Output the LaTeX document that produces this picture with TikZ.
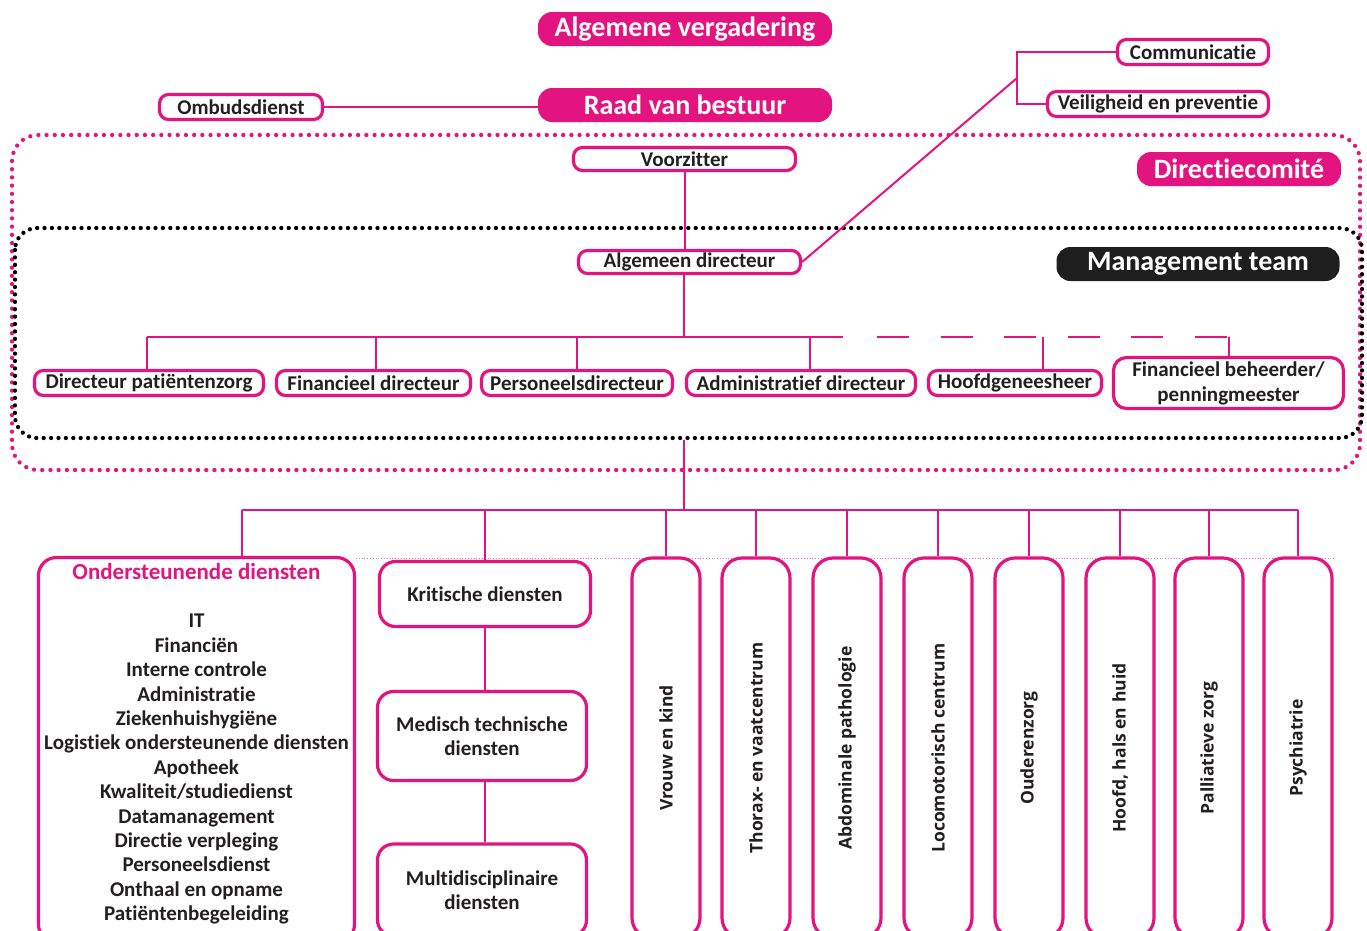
\documentclass[tikz,border=0pt]{standalone}
\usepackage{fontspec}
\setmainfont{Carlito}[Ligatures=NoCommon]
\newfontfamily\vfont{Open Sans}[Ligatures=NoCommon]
\definecolor{mag}{HTML}{E3147F}
\definecolor{txt}{HTML}{231F20}
\definecolor{blk}{HTML}{1E1E1E}
\tikzset{
  every node/.style={font=\bfseries\fontsize{21}{24.4}\selectfont, text=txt},
  pbox/.style={draw=mag, line width=3.2pt, rounded corners=9pt, fill=white, inner sep=0pt, align=center},
  fillbox/.style={fill=mag, rounded corners=14pt, inner sep=0pt, text=white, font=\bfseries\fontsize{28}{30}\selectfont},
  blackbox/.style={fillbox, fill=blk},
  conn/.style={draw=mag, line width=2pt},
  dashconn/.style={conn, dash pattern=on 32pt off 31.5pt},
  vbox/.style={pbox, rounded corners=20pt, rotate=90, minimum width=380pt, minimum height=68pt, font=\vfont\bfseries\fontsize{17.5}{20}\selectfont},
  pinkdots/.style={draw=mag, line width=4.3pt, line cap=round, dash pattern=on 0pt off 8.2pt, rounded corners=26pt},
  blackdots/.style={draw=black, line width=4.3pt, line cap=round, dash pattern=on 0pt off 7.4pt, rounded corners=22pt},
  faint/.style={draw=mag!60, line width=0.8pt, dotted}
}
\begin{document}
\begin{tikzpicture}[x=1pt,y=-1pt]
\clip (0,0) rectangle (1367,930);
\fill[white] (0,0) rectangle (1367,930);
% group frames
\draw[pinkdots] (12,135) rectangle (1360,470);
\draw[blackdots] (15,228) rectangle (1362,438);
\draw[faint] (356,558) -- (1334,558);
% top
\node[fillbox, minimum width=294pt, minimum height=34pt] (av) at (685,29) {Algemene vergadering};
\node[fillbox, minimum width=294pt, minimum height=34pt] (rvb) at (685,105) {Raad van bestuur};
\node[pbox, minimum width=163pt, minimum height=25pt] (omb) at (241,107) {Ombudsdienst};
\node[pbox, minimum width=151pt, minimum height=25pt] (com) at (1193,52) {Communicatie};
\node[pbox, minimum width=221pt, minimum height=25pt] (vei) at (1158,104) {Veiligheid en preventie};
\node[fillbox, minimum width=204pt, minimum height=34pt] (dc) at (1239,169) {Directiecomité};
\node[pbox, minimum width=222pt, minimum height=23pt] (voor) at (684.5,159) {Voorzitter};
\node[blackbox, minimum width=283pt, minimum height=34pt] (mt) at (1198,264) {Management team};
\node[pbox, minimum width=222pt, minimum height=23pt] (ad) at (689.5,262) {Algemeen directeur};
% directors
\node[pbox, minimum width=229pt, minimum height=25pt] (d1) at (149,383) {Directeur patiëntenzorg};
\node[pbox, minimum width=194pt, minimum height=25pt] (d2) at (373.5,383) {Financieel directeur};
\node[pbox, minimum width=191pt, minimum height=25pt] (d3) at (577,383) {Personeelsdirecteur};
\node[pbox, minimum width=229pt, minimum height=25pt] (d4) at (801,383) {Administratief directeur};
\node[pbox, minimum width=173pt, minimum height=25pt] (d5) at (1015,383) {Hoofdgeneesheer};
\node[pbox, minimum width=230pt, minimum height=51pt, rounded corners=13pt, font=\bfseries\fontsize{21}{25}\selectfont] (d6) at (1228.5,383) {Financieel beheerder/\\penningmeester};
% bottom left
\node[pbox, rounded corners=18pt, minimum width=316pt, minimum height=385pt] (ond) at (196.5,750) {};
\node[text=mag, font=\bfseries\fontsize{23}{24}\selectfont] (ondt) at (196.5,572) {Ondersteunende diensten};
\node[anchor=north, align=center, inner sep=0pt] (ondl) at (196.5,614) {IT\\Financiën\\Interne controle\\Administratie\\Ziekenhuishygiëne\\Logistiek ondersteunende diensten\\Apotheek\\Kwaliteit/studiedienst\\Datamanagement\\Directie verpleging\\Personeelsdienst\\Onthaal en opname\\Patiëntenbegeleiding};
\node[pbox, rounded corners=16pt, minimum width=211pt, minimum height=65pt] (krit) at (485,594) {Kritische diensten};
\node[pbox, rounded corners=16pt, minimum width=209pt, minimum height=89pt] (med) at (482,736) {Medisch technische\\diensten};
\node[pbox, rounded corners=16pt, minimum width=209pt, minimum height=92pt] (mul) at (482,890) {Multidisciplinaire\\diensten};
% vertical boxes
\node[vbox] (v1) at (666,748) {Vrouw en kind};
\node[vbox] (v2) at (756,748) {Thorax- en vaatcentrum};
\node[vbox] (v3) at (847,748) {Abdominale pathologie};
\node[vbox] (v4) at (938,748) {Locomotorisch centrum};
\node[vbox] (v5) at (1029,748) {Ouderenzorg};
\node[vbox] (v6) at (1120,748) {Hoofd, hals en huid};
\node[vbox] (v7) at (1209,748) {Palliatieve zorg};
\node[vbox] (v8) at (1298,748) {Psychiatrie};
% coordinates
\coordinate (brk) at (1017,78);
\coordinate (bL) at (147,337);
\coordinate (bA) at (684,337);
\coordinate (bS) at (843,337);
\coordinate (bD) at (877,337);
\coordinate (t2) at (376,337);
\coordinate (t4) at (810,337);
\coordinate (t5) at (1043,337);
\coordinate (bR) at (1229,337);
\coordinate (c0) at (684,440);
\coordinate (c1) at (684,510);
\coordinate (cL) at (242,510);
\coordinate (cR) at (1298,510);
% connectors
\draw[conn] (omb.east) -- (omb.east -| rvb.west);
\draw[conn] (com.west) -- (com.west -| brk) -- (vei.west -| brk) -- (vei.west);
\draw[conn] (ad.east) -- (brk);
\draw[conn] (voor.south) -- (voor.south |- ad.north);
\draw[conn] (ad.south -| bA) -- (bA);
\draw[conn] (bL) -- (bS);
\draw[dashconn] (bD) -- (bR);
\draw[conn] (bL) -- (bL |- d1.north);
\draw[conn] (t2) -- (t2 |- d2.north);
\draw[conn] (d3.north |- bA) -- (d3.north);
\draw[conn] (t4) -- (t4 |- d4.north);
\draw[conn] (t5) -- (t5 |- d5.north);
\draw[conn] (bR) -- (bR |- d6.north);
\draw[conn] (c0) -- (c1);
\draw[conn] (cL) -- (cR);
\draw[conn] (cL) -- (cL |- ond.north);
\draw[conn] (krit.north |- c1) -- (krit.north);
\draw[conn] (krit.south) -- (med.north -| krit.south);
\draw[conn] (med.south -| krit.south) -- (mul.north -| krit.south);
\foreach \v in {v1,v2,v3,v4,v5,v6,v7,v8}{
  \draw[conn] (\v.east |- c1) -- (\v.east);
}
\end{tikzpicture}
\end{document}
